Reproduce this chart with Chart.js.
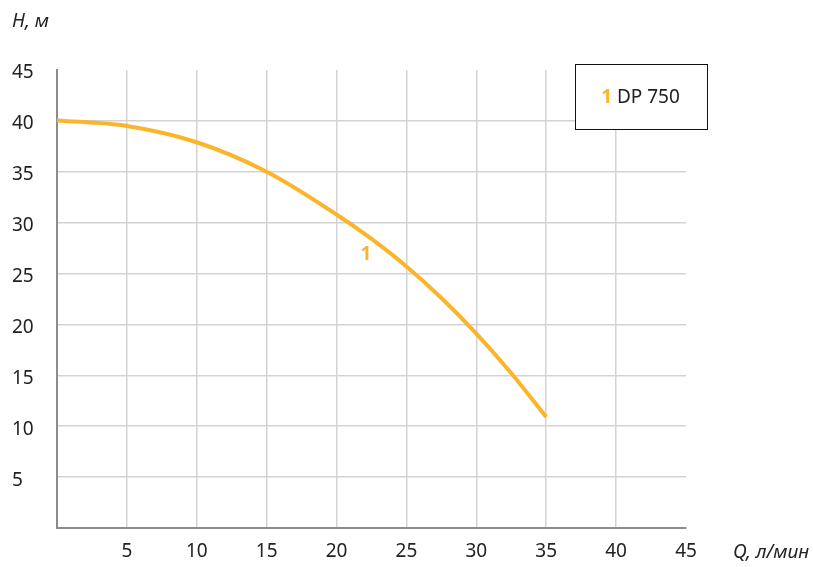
<!DOCTYPE html>
<html>
<head>
<meta charset="utf-8">
<script src="https://cdn.jsdelivr.net/npm/chart.js@4/dist/chart.umd.min.js"></script>
<style>
html,body{margin:0;padding:0;background:#fff;}
#wrap{width:813px;height:567px;position:relative;}
</style>
</head>
<body>
<div id="wrap"><canvas id="c" width="813" height="567"></canvas></div>
<script>
const flowQ = [0, 5, 10, 15, 20, 22.5, 25, 27.5, 30, 32.5, 35];
const headH = [40.05, 39.5, 37.9, 35.0, 30.8, 28.4, 25.7, 22.6, 19.1, 15.2, 10.9];
const xTicks = [5, 10, 15, 20, 25, 30, 35, 40, 45];
const yTicks = [5, 10, 15, 20, 25, 30, 35, 40, 45];
const seriesName = 'DP 750';
const seriesNo = '1';
const curveLabelAt = [22.1, 26.9];
const xTitle = 'Q, л/мин';
const yTitle = 'H, м';

const ORANGE = '#fbb52b';
const FONT = '"Noto Sans", "Open Sans", sans-serif';

const extras = {
  id: 'extras',
  afterDraw(chart) {
    const ctx = chart.ctx;
    const xs = chart.scales.x, ys = chart.scales.y;
    ctx.save();
    ctx.fillStyle = '#222';
    ctx.font = 'italic 19px ' + FONT;
    ctx.textBaseline = 'middle';
    ctx.textAlign = 'left';
    ctx.fillText(yTitle, 12, 22);
    ctx.fillText(xTitle, 733, 553);
    ctx.fillStyle = ORANGE;
    ctx.font = 'bold 19px ' + FONT;
    ctx.textAlign = 'center';
    ctx.fillText(seriesNo, xs.getPixelForValue(curveLabelAt[0]), ys.getPixelForValue(curveLabelAt[1]));
    const bx = 575.5, by = 64.5, bw = 132, bh = 65;
    ctx.fillStyle = '#fff';
    ctx.fillRect(bx, by, bw, bh);
    ctx.strokeStyle = '#111';
    ctx.lineWidth = 1;
    ctx.strokeRect(bx, by, bw, bh);
    ctx.textAlign = 'left';
    ctx.font = 'bold 19px ' + FONT;
    const w1 = ctx.measureText(seriesNo + ' ').width;
    ctx.font = '19px ' + FONT;
    const w2 = ctx.measureText(seriesName).width;
    const sx = bx + bw / 2 - (w1 + w2) / 2 - 1;
    ctx.font = 'bold 19px ' + FONT;
    ctx.fillStyle = ORANGE;
    ctx.fillText(seriesNo, sx, by + bh / 2 + 1);
    ctx.font = '19px ' + FONT;
    ctx.fillStyle = '#222';
    ctx.fillText(seriesName, sx + w1, by + bh / 2 + 1);
    ctx.restore();
  }
};

const gridColor = (ctx) => {
  const v = ctx.tick ? ctx.tick.value : null;
  if (v === 0 || v === 45) return 'rgba(0,0,0,0)';
  return '#d3d3d3';
};

new Chart(document.getElementById('c'), {
  type: 'line',
  data: {
    datasets: [{
      label: seriesName,
      data: flowQ.map((q, i) => ({x: q, y: headH[i]})),
      borderColor: ORANGE,
      borderWidth: 4,
      pointRadius: 0,
      fill: false,
      cubicInterpolationMode: 'monotone'
    }]
  },
  options: {
    responsive: false,
    animation: false,
    devicePixelRatio: 1,
    layout: {padding: {left: 12, right: 127, top: 70, bottom: 0}},
    plugins: {legend: {display: false}, tooltip: {enabled: false}},
    scales: {
      x: {
        type: 'linear', min: 0, max: 45,
        afterBuildTicks: (s) => { s.ticks = [0].concat(xTicks).map(v => ({value: v})); },
        afterFit: (s) => { s.height = 39; },
        grid: {color: gridColor, lineWidth: 1.5, drawTicks: false},
        border: {display: true, color: '#8c8c8c', width: 2},
        ticks: {
          padding: 12,
          color: '#222',
          font: {family: FONT, size: 19},
          maxRotation: 0,
          autoSkip: false,
          callback: (v) => (v === 0 ? '' : String(v))
        }
      },
      y: {
        type: 'linear', min: 0, max: 45,
        afterBuildTicks: (s) => { s.ticks = [0].concat(yTicks).map(v => ({value: v})); },
        afterFit: (s) => { s.width = 45; },
        grid: {color: gridColor, lineWidth: 1.5, drawTicks: false},
        border: {display: true, color: '#8c8c8c', width: 2},
        ticks: {
          crossAlign: 'far',
          labelOffset: 3,
          color: '#222',
          font: {family: FONT, size: 19},
          autoSkip: false,
          callback: (v) => (v === 0 ? '' : String(v))
        }
      }
    }
  },
  plugins: [extras]
});
</script>
</body>
</html>
